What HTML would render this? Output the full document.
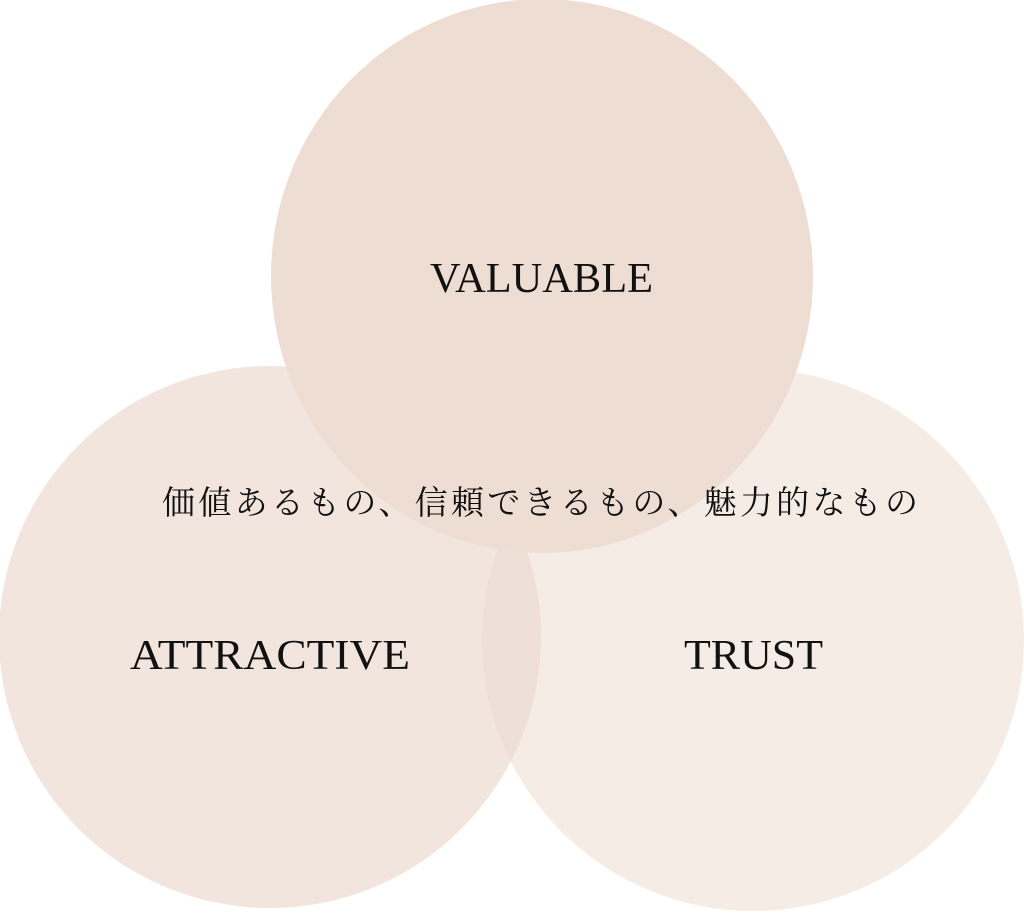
<!DOCTYPE html>
<html><head><meta charset="utf-8"><style>
html,body{margin:0;padding:0;background:#fff;}
svg{display:block;}
</style></head><body>
<svg width="1024" height="920" viewBox="0 0 1024 920" xmlns="http://www.w3.org/2000/svg">
<defs>
<clipPath id="cl"><circle cx="270" cy="637" r="271"/></clipPath>
</defs>
<circle cx="753" cy="640" r="271" fill="#F5ECE6"/>
<circle cx="270" cy="637" r="271" fill="#F2E5DD"/>
<circle cx="753" cy="640" r="271" fill="#EFE0D7" clip-path="url(#cl)"/>
<ellipse cx="542" cy="276" rx="271" ry="277" fill="#EEDDD2"/>
<g font-family="'Liberation Serif', serif" font-size="42" fill="#111">
<text x="430" y="292" textLength="223" lengthAdjust="spacingAndGlyphs">VALUABLE</text>
<text x="130" y="669" textLength="280" lengthAdjust="spacingAndGlyphs">ATTRACTIVE</text>
<text x="684" y="669" textLength="139" lengthAdjust="spacingAndGlyphs">TRUST</text>
</g>
<text x="162" y="514" font-family="'Liberation Serif','Noto Serif CJK SC',serif" font-size="33" fill="#111" textLength="756" lengthAdjust="spacing">価値あるもの、信頼できるもの、魅力的なもの</text>
</svg>
</body></html>
